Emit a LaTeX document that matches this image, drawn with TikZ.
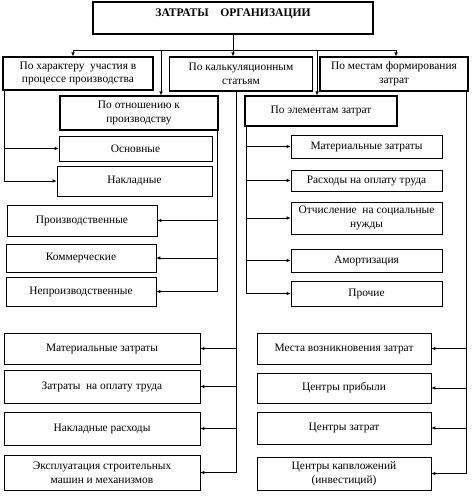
\documentclass[tikz,border=0pt]{standalone}
\usepackage{fontspec}
\setmainfont{Liberation Serif}
\usetikzlibrary{arrows.meta}

\begin{document}
\begin{tikzpicture}[x=1pt, y=-1pt,
    box/.style  = {draw, line width=0.6pt, align=center, inner sep=1pt,
                   font=\fontsize{11.4}{13.8}\selectfont},
    kind/.style = {box, line width=1.1pt},
    arr/.style  = {-{Latex[length=4pt,width=3.5pt]}, line width=0.7pt}]
        \useasboundingbox (0,0) rectangle (474,498);

        % top level
        \node[box, line width=1.6pt, minimum width=280pt, minimum height=32pt,
              font=\bfseries\fontsize{11.6}{14}\selectfont] at (233,18) (0) {\raisebox{10pt}{ЗАТРАТЫ\quad ОРГАНИЗАЦИИ}};

        % classification
        \node[kind, minimum width=150pt, minimum height=33pt] at ( 78, 73.5) (1) {По характеру\ \ участия в\\процессе производства};
        \node[kind, minimum width=143pt, minimum height=34pt] at (241, 74  ) (2) {По калькуляционным\\статьям};
        \node[kind, minimum width=148pt, minimum height=34pt] at (394, 74  ) (3) {По местам формирования\\затрат};
        \node[kind, minimum width=158pt, minimum height=34pt] at (139,113  ) (4) {По отношению к\\производству};
        \node[kind, minimum width=152pt, minimum height=30pt] at (321,111  ) (5) {По элементам затрат};

        % left middle
        \node[box, minimum width=153pt, minimum height=25pt] at (135.5,148.5) (6)  {Основные};
        \node[box, minimum width=155pt, minimum height=30pt] at (134.5,181  ) (7)  {Накладные};
        \node[box, minimum width=150pt, minimum height=31pt] at ( 82  ,220.5) (8)  {Производственные};
        \node[box, minimum width=150pt, minimum height=28pt] at ( 81  ,258  ) (9)  {Коммерческие};
        \node[box, minimum width=150pt, minimum height=29pt] at ( 81  ,291.5) (10) {Непроизводственные};

        % right middle
        \node[box, minimum width=151pt, minimum height=23pt] at (366.5,146.5) (11) {Материальные затраты};
        \node[box, minimum width=151pt, minimum height=21pt] at (366.5,180.5) (12) {Расходы на оплату труда};
        \node[box, minimum width=151pt, minimum height=32pt] at (366.5,218  ) (13) {Отчисление\ \ на социальные\\нужды};
        \node[box, minimum width=151pt, minimum height=23pt] at (366.5,260.5) (14) {Амортизация};
        \node[box, minimum width=151pt, minimum height=25pt] at (366.5,293.5) (15) {Прочие};

        % left bottom
        \node[box, minimum width=196pt, minimum height=31pt] at (102,348.5) (16) {Материальные затраты};
        \node[box, minimum width=196pt, minimum height=33pt] at (102,386.5) (17) {Затраты\ \ на оплату труда};
        \node[box, minimum width=196pt, minimum height=33pt] at (102,428.5) (18) {Накладные расходы};
        \node[box, minimum width=196pt, minimum height=35pt] at (102,472.5) (19) {Эксплуатация строительных\\машин и механизмов};

        % right bottom
        \node[box, minimum width=174pt, minimum height=31pt] at (344,348.5) (20) {Места возникновения затрат};
        \node[box, minimum width=174pt, minimum height=30pt] at (344,388  ) (21) {Центры прибыли};
        \node[box, minimum width=174pt, minimum height=32pt] at (344,428  ) (22) {Центры затрат};
        \node[box, minimum width=174pt, minimum height=33pt] at (344,473.5) (23) {Центры капвложений\\(инвестиций)};

        % bus under the top box
        \coordinate (a) at ( 73,50);
        \coordinate (b) at (396,50);
        \coordinate (c) at (161,50);
        \coordinate (d) at (317,50);
        \draw[line width=0.7pt] (a) -- (b);
        \draw[line width=0.7pt] (0.south) -- (0.south |- a);

        \draw[arr] (a) -- (a |- 1.north);
        \draw[arr] (0.south |- a) -- (0.south |- 2.north);
        \draw[arr] (b) -- (b |- 3.north);
        \draw[arr] (c) -- (c |- 4.north);
        \draw[arr] (d) -- (d |- 5.north);

        \draw[arr] ([xshift=1.5pt]1.south west) |- (6.west);
        \draw[arr] ([xshift=1.5pt]1.south west) |- (7.west);

        \draw[arr] ([xshift=-1.5pt]4.south east) |- (8.east);
        \draw[arr] ([xshift=-1.5pt]4.south east) |- (9.east);
        \draw[arr] ([xshift=-1.5pt]4.south east) |- (10.east);

        \draw[arr] ([xshift=1.5pt]5.south west) |- (11.west);
        \draw[arr] ([xshift=1.5pt]5.south west) |- (12.west);
        \draw[arr] ([xshift=1.5pt]5.south west) |- (13.west);
        \draw[arr] ([xshift=1.5pt]5.south west) |- (14.west);
        \draw[arr] ([xshift=1.5pt]5.south west) |- (15.west);

        \draw[arr] ([xshift=-4.5pt]2.south) |- (16.east);
        \draw[arr] ([xshift=-4.5pt]2.south) |- (17.east);
        \draw[arr] ([xshift=-4.5pt]2.south) |- (18.east);
        \draw[arr] ([xshift=-4.5pt]2.south) |- (19.east);

        \draw[arr] ([xshift=-2pt]3.south east) |- (20.east);
        \draw[arr] ([xshift=-2pt]3.south east) |- (21.east);
        \draw[arr] ([xshift=-2pt]3.south east) |- (22.east);
        \draw[arr] ([xshift=-2pt]3.south east) |- (23.east);
\end{tikzpicture}
\end{document}
